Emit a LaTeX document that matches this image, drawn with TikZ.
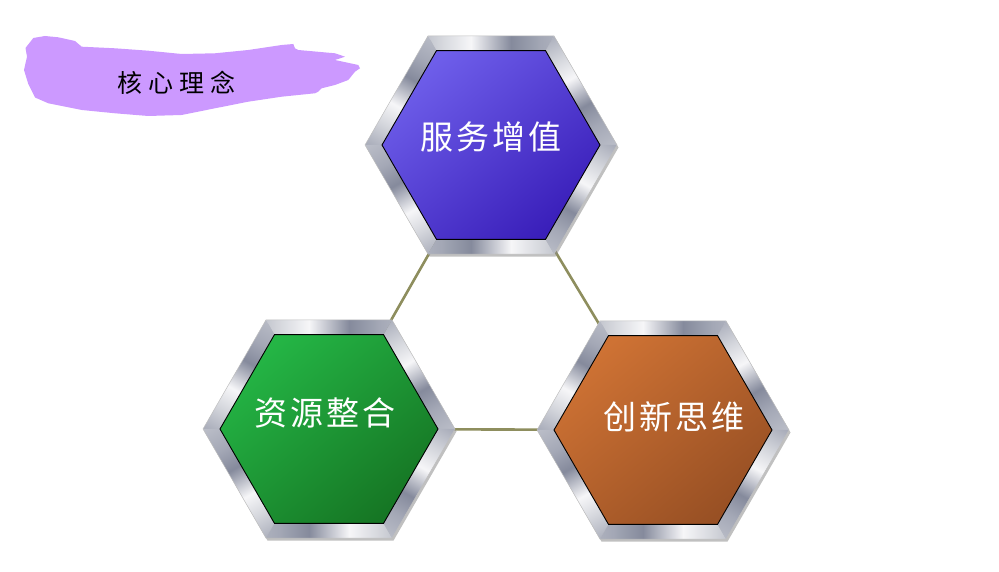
\documentclass[tikz,border=0pt]{standalone}
\usepackage{fontspec}
\newfontfamily\cjk{Noto Sans CJK SC}
\usetikzlibrary{calc}
\definecolor{brushc}{HTML}{CC99FF}
\definecolor{connc}{HTML}{8E8E5E}
\definecolor{metalA}{HTML}{A4A8B6}
\definecolor{metalB}{HTML}{F6F6F8}
\definecolor{metalC}{HTML}{858A9C}
\definecolor{metalD}{HTML}{D4D6DC}
\definecolor{blueL}{HTML}{6E5EEA}
\definecolor{blueD}{HTML}{3A1FBA}
\definecolor{greenL}{HTML}{24B545}
\definecolor{greenD}{HTML}{167624}
\definecolor{orangeL}{HTML}{CE7234}
\definecolor{orangeD}{HTML}{985024}
\pgfdeclarehorizontalshading{metal}{100bp}{color(0bp)=(metalD); color(30bp)=(metalA); color(42bp)=(metalC); color(58bp)=(metalB); color(70bp)=(metalD); color(85bp)=(metalA); color(100bp)=(metalD)}
\tikzset{
  conn/.style={draw=connc, line width=2.6pt},
  hextext/.style={text=white, font=\cjk\fontsize{33}{33}\selectfont, inner sep=0pt},
  titletext/.style={text=black, font=\cjk\fontsize{25}{25}\selectfont, inner sep=0pt},
}
\newcommand{\hexbox}[3]{%
  \fill[black!45, opacity=0.55] ($(#1)+(1.5,-2.5)+(0:126)$)
    \foreach \b in {60,120,...,300}{ -- ($(#1)+(1.5,-2.5)+(\b:126)$)} -- cycle;
  \foreach \a in {0,60,...,300}{%
    \pgfmathsetmacro\sa{\a+120}%
    \pgfmathsetmacro\an{\a+60}%
    \shade[shading=metal, shading angle=\sa]
      ($(#1)+(\a:126)$) -- ($(#1)+(\an:126)$) -- ($(#1)+(\an:109)$) -- ($(#1)+(\a:109)$) -- cycle;
  }
  \draw[gray!50, line width=0.5pt] ($(#1)+(0:126)$)
    \foreach \b in {60,120,...,300}{ -- ($(#1)+(\b:126)$)} -- cycle;
  \shade[top color=#2, bottom color=#3, shading angle=40, draw=black, line width=0.9pt]
    ($(#1)+(0:109)$)
    \foreach \b in {60,120,...,300}{ -- ($(#1)+(\b:109)$)} -- cycle;
}
\begin{document}
\begin{tikzpicture}[x=1pt,y=1pt]
\useasboundingbox (0,0) rectangle (999,572);
% brush stroke
\begin{scope}[shift={(0,572)},yscale=-1]
\fill[brushc] (33.3,38) -- (45,36) -- (58.3,37.3) -- (75,41) -- (81.7,46.7)
  -- (115,48.3) -- (148.3,50.7) -- (181.7,54) -- (215,53.3) -- (248.3,50)
  -- (281.7,45) -- (293.3,44) -- (295,48.3) -- (298.3,50) -- (335,53.3)
  -- (345,56.7) -- (335,60) -- (358.3,65) -- (360,68.3) -- (355,71.7)
  -- (348.3,80) -- (335,85) -- (321.7,88.3) -- (318.3,91.7) -- (315,93.3)
  -- (298.3,95) -- (281.7,96.7) -- (248.3,101.7) -- (215,108.3) -- (181.7,115)
  -- (148.3,116) -- (115,113.3) -- (81.7,110) -- (48.3,103.3) -- (35,97.5)
  -- (28.3,84) -- (24,70) -- (27,56.7) -- (25.5,48) -- cycle;
\end{scope}
\node[titletext] (title) at (176,489) {核\kern6pt 心\kern6pt 理\kern6pt 念};
% centres
\coordinate (ctop) at (491,427);
\coordinate (cleft) at (329,143);
\coordinate (cright) at (663,142);
% connectors
\draw[conn] (ctop) -- (cleft);
\draw[conn] (ctop) -- (cright);
\draw[conn] (cleft) -- (cright);
% hexagons
\hexbox{ctop}{blueL}{blueD}
\hexbox{cleft}{greenL}{greenD}
\hexbox{cright}{orangeL}{orangeD}
% labels
\node[hextext] (ttop) at (491,435) {服\kern3pt 务\kern3pt 增\kern3pt 值};
\node[hextext] (tleft) at (325,159) {资\kern3pt 源\kern3pt 整\kern3pt 合};
\node[hextext] (tright) at (674,155) {创\kern3pt 新\kern3pt 思\kern3pt 维};
\end{tikzpicture}
\end{document}
